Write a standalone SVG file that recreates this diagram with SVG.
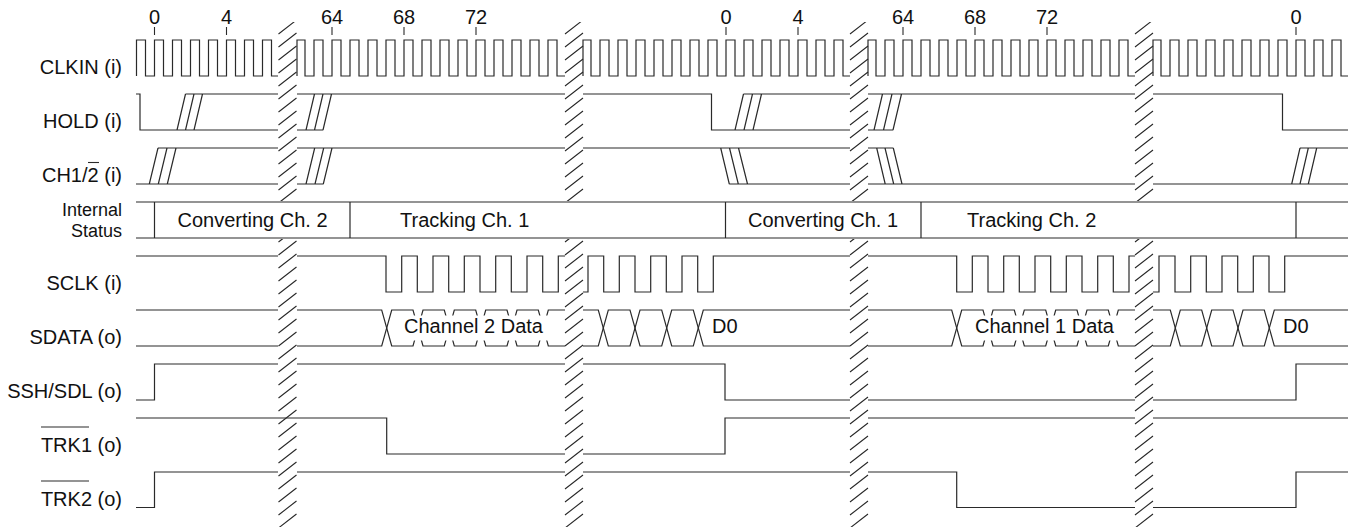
<svg xmlns="http://www.w3.org/2000/svg" xmlns:xlink="http://www.w3.org/1999/xlink" width="1355" height="529" viewBox="0 0 1355 529">
<style>
.w{fill:none;stroke:#2a2a2a;stroke-width:1.2}
.t{font-family:"Liberation Sans",Arial,sans-serif;font-size:20px;fill:#111}
.r{text-anchor:end}
.m{text-anchor:middle}
.k{fill:none;stroke:#2a2a2a;stroke-width:1.1}
.h{fill:none;stroke:#2a2a2a;stroke-width:1.1}
</style>
<defs>
<clipPath id="hc" clipPathUnits="userSpaceOnUse"><rect x="-3" y="22" width="24" height="179"/><rect x="-3" y="239" width="24" height="288"/></clipPath>
<g id="hatch" clip-path="url(#hc)"><path class="h" d="M0,34L18,20 M0,47L18,33 M0,60L18,46 M0,73L18,59 M0,86L18,72 M0,99L18,85 M0,112L18,98 M0,125L18,111 M0,138L18,124 M0,151L18,137 M0,164L18,150 M0,177L18,163 M0,190L18,176 M0,203L18,189 M0,216L18,202 M0,229L18,215 M0,242L18,228 M0,255L18,241 M0,268L18,254 M0,281L18,267 M0,294L18,280 M0,307L18,293 M0,320L18,306 M0,333L18,319 M0,346L18,332 M0,359L18,345 M0,372L18,358 M0,385L18,371 M0,398L18,384 M0,411L18,397 M0,424L18,410 M0,437L18,423 M0,450L18,436 M0,463L18,449 M0,476L18,462 M0,489L18,475 M0,502L18,488 M0,515L18,501 M0,528L18,514"/></g>
</defs>
<rect width="1355" height="529" fill="#fff"/>

<g id="ticks">
<path class="k" d="M154.5,27V35 M226.5,27V35 M332,27V35 M404,27V35 M476,27V35 M726,27V35 M798,27V35 M903,27V35 M975,27V35 M1047,27V35 M1296,27V35"/>
<text class="t m" x="154.5" y="24">0</text>
<text class="t m" x="226.5" y="24">4</text>
<text class="t m" x="332" y="24">64</text>
<text class="t m" x="404" y="24">68</text>
<text class="t m" x="476" y="24">72</text>
<text class="t m" x="726" y="24">0</text>
<text class="t m" x="798" y="24">4</text>
<text class="t m" x="903" y="24">64</text>
<text class="t m" x="975" y="24">68</text>
<text class="t m" x="1047" y="24">72</text>
<text class="t m" x="1296" y="24">0</text>
</g>

<g id="clkin">
<text class="t r" x="122" y="74">CLKIN (i)</text>
<path class="w" d="M136.5,76 V40 H145.5 V76 H154.5 V40 H163.5 V76 H172.5 V40 H181.5 V76 H190.5 V40 H199.5 V76 H208.5 V40 H217.5 V76 H226.5 V40 H235.5 V76 H244.5 V40 H253.5 V76 H262.5 V40 H271.5 V76 H278"/>
<path class="w" d="M297,76 V40 H305 V76 H314 V40 H323 V76 H332 V40 H341 V76 H350 V40 H359 V76 H368 V40 H377 V76 H386 V40 H395 V76 H404 V40 H413 V76 H422 V40 H431 V76 H440 V40 H449 V76 H458 V40 H467 V76 H476 V40 H485 V76 H494 V40 H503 V76 H512 V40 H521 V76 H530 V40 H539 V76 H548 V40 H557 V76 H565"/>
<path class="w" d="M583,76 V40 H591 V76 H600 V40 H609 V76 H618 V40 H627 V76 H636 V40 H645 V76 H654 V40 H663 V76 H672 V40 H681 V76 H690 V40 H699 V76 H708 V40 H717 V76 H726 V40 H735 V76 H744 V40 H753 V76 H762 V40 H771 V76 H780 V40 H789 V76 H798 V40 H807 V76 H816 V40 H825 V76 H834 V40 H843 V76 H850"/>
<path class="w" d="M868,76 V40 H876 V76 H885 V40 H894 V76 H903 V40 H912 V76 H921 V40 H930 V76 H939 V40 H948 V76 H957 V40 H966 V76 H975 V40 H984 V76 H993 V40 H1002 V76 H1011 V40 H1020 V76 H1029 V40 H1038 V76 H1047 V40 H1056 V76 H1065 V40 H1074 V76 H1083 V40 H1092 V76 H1101 V40 H1110 V76 H1119 V40 H1128 V76 H1135"/>
<path class="w" d="M1153,76 V40 H1161 V76 H1170 V40 H1179 V76 H1188 V40 H1197 V76 H1206 V40 H1215 V76 H1224 V40 H1233 V76 H1242 V40 H1251 V76 H1260 V40 H1269 V76 H1278 V40 H1287 V76 H1296 V40 H1305 V76 H1314 V40 H1323 V76 H1332 V40 H1341 V76 H1348"/>
</g>

<g id="hold">
<text class="t r" x="122" y="128">HOLD (i)</text>
<path class="w" d="M136,94 H140 V130 H278 M185.5,94 H278 M177,130 L185.5,94 M185.5,130 L194,94 M194,130 L202.5,94"/>
<path class="w" d="M297,94 H565 M297,130 H323 M306,130 L314.5,94 M314.5,130 L323,94 M323,130 L331.5,94"/>
<path class="w" d="M583,94 H711.5 V130 H850 M743.5,94 H850 M735,130 L743.5,94 M744,130 L752.5,94 M753,130 L761.5,94"/>
<path class="w" d="M868,94 H1135 M868,130 H893 M874,130 L882.5,94 M883.5,130 L892,94 M893,130 L901.5,94"/>
<path class="w" d="M1153,94 H1282.5 V130 H1348"/>
</g>

<g id="ch12">
<text class="t r" x="122" y="182">CH1/2 (i)</text>
<path class="k" d="M88,162.5 H99"/>
<path class="w" d="M136,184 H278 M158,148 H278 M149.3,184 L158,148 M158.3,184 L167,148 M167.3,184 L176,148"/>
<path class="w" d="M297,148 H565 M297,184 H323.3 M306,184 L314.7,148 M315,184 L323.7,148 M323.3,184 L332,148"/>
<path class="w" d="M583,148 H850 M729.3,184 H850 M720.7,148 L729.3,184 M729.5,148 L738.3,184 M738.5,148 L747.5,184"/>
<path class="w" d="M868,148 H893.3 M868,184 H1135 M876.7,148 L885.2,184 M885,148 L893.7,184 M893.3,148 L902,184"/>
<path class="w" d="M1153,184 H1348 M1300,148 H1348 M1291.7,184 L1300,148 M1300,184 L1308.3,148 M1308.3,184 L1316.7,148"/>
</g>

<g id="status">
<text class="t r" x="122" y="215.5" style="font-size:18px">Internal</text>
<text class="t r" x="122" y="236.5" style="font-size:18px">Status</text>
<path class="w" d="M136,202 H1348 M136,238 H1348 M154.5,202 V238 M350,202 V238 M725.5,202 V238 M921,202 V238 M1296,202 V238"/>
<text class="t m" x="252.5" y="227">Converting Ch. 2</text>
<text class="t" x="400" y="227">Tracking Ch. 1</text>
<text class="t m" x="823" y="227">Converting Ch. 1</text>
<text class="t" x="967" y="227">Tracking Ch. 2</text>
</g>

<g id="sclk">
<text class="t r" x="122" y="290">SCLK (i)</text>
<path class="w" d="M136,256 H278"/>
<path class="w" d="M297,256 H386 V292 H401.7 V256 H417.3 V292 H433 V256 H448.7 V292 H464.3 V256 H480 V292 H495.7 V256 H511.3 V292 H527 V256 H542.7 V292 H558.3 V256 H565"/>
<path class="w" d="M583,292 H588 V256 H603.7 V292 H619.3 V256 H635 V292 H650.7 V256 H666.3 V292 H682 V256 H697.7 V292 H713.3 V256 H850"/>
<path class="w" d="M868,256 H956.7 V292 H972.3 V256 H988 V292 H1003.7 V256 H1019.3 V292 H1035 V256 H1050.7 V292 H1066.3 V256 H1082 V292 H1097.7 V256 H1113.3 V292 H1129 V256 H1135"/>
<path class="w" d="M1153,292 H1159 V256 H1175 V292 H1190.7 V256 H1206.3 V292 H1222 V256 H1237.7 V292 H1253.3 V256 H1269 V292 H1284.7 V256 H1348"/>
</g>

<g id="sdata">
<text class="t r" x="122" y="344">SDATA (o)</text>
<path class="w" d="M136,310 H278 M136,346 H278"/>
<path class="w" d="M297,310 H381.7 L391.7,346 H413 L423,310 H444.3 L454.3,346 H475.7 L485.7,310 H507 L517,346 H538.3 L548.3,310 H565"/>
<path class="w" d="M297,346 H381.7 L391.7,310 H413 L423,346 H444.3 L454.3,310 H475.7 L485.7,346 H507 L517,310 H538.3 L548.3,346 H565"/>
<path class="w" d="M583,310 H598.3 L608.3,346 H630 L640,310 H661.7 L671.7,346 H693.3 L703.3,310 H850"/>
<path class="w" d="M583,346 H598.3 L608.3,310 H630 L640,346 H661.7 L671.7,310 H693.3 L703.3,346 H850"/>
<path class="w" d="M868,310 H951.7 L961.7,346 H983 L993,310 H1014.3 L1024.3,346 H1045.7 L1055.7,310 H1077 L1087,346 H1108.3 L1118.3,310 H1135"/>
<path class="w" d="M868,346 H951.7 L961.7,310 H983 L993,346 H1014.3 L1024.3,310 H1045.7 L1055.7,346 H1077 L1087,310 H1108.3 L1118.3,346 H1135"/>
<path class="w" d="M1153,310 H1170.3 L1180.3,346 H1201.7 L1211.7,310 H1233 L1243,346 H1264.3 L1274.3,310 H1348"/>
<path class="w" d="M1153,346 H1170.3 L1180.3,310 H1201.7 L1211.7,346 H1233 L1243,310 H1264.3 L1274.3,346 H1348"/>
<rect x="399" y="315.5" width="150" height="25" fill="#fff"/>
<rect x="970" y="315.5" width="150" height="25" fill="#fff"/>
<text class="t" x="404" y="333">Channel 2 Data</text>
<text class="t" x="712" y="333">D0</text>
<text class="t" x="975" y="333">Channel 1 Data</text>
<text class="t" x="1283" y="333">D0</text>
</g>

<g id="sshsdl">
<text class="t r" x="122" y="398">SSH/SDL (o)</text>
<path class="w" d="M136,400 H154.5 V364 H278 M297,364 H565 M583,364 H725 V400 H850 M868,400 H1135 M1153,400 H1296 V364 H1348"/>
</g>

<g id="trk1">
<text class="t r" x="122" y="452">TRK1 (o)</text>
<path class="k" d="M41,427 H89"/>
<path class="w" d="M136,418 H386.7 V454 H565 M583,454 H725 V418 H850 M868,418 H1135 M1153,418 H1348"/>
</g>

<g id="trk2">
<text class="t r" x="122" y="506">TRK2 (o)</text>
<path class="k" d="M41,481 H89"/>
<path class="w" d="M136,507.5 H154.5 V472 H278 M297,472 H565 M583,472 H850 M868,472 H956.7 V507.5 H1135 M1153,507.5 H1296 V472 H1348"/>
</g>

<g id="breaks">
<use xlink:href="#hatch" x="278.5"/>
<use xlink:href="#hatch" x="565"/>
<use xlink:href="#hatch" x="850"/>
<use xlink:href="#hatch" x="1135"/>
</g>
</svg>
